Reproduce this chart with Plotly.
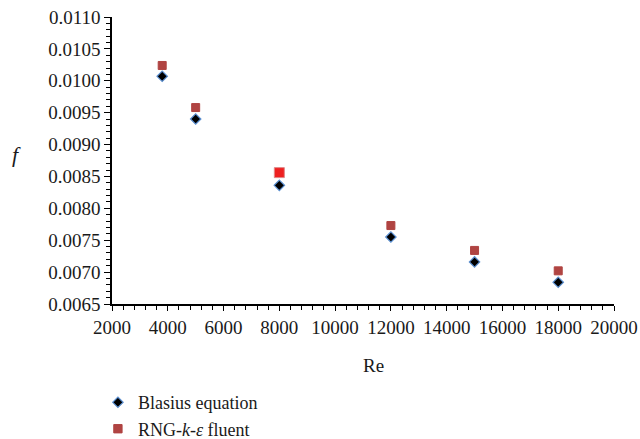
import plotly.graph_objects as go

re_vals = [3800, 5000, 8000, 12000, 15000, 18000]
blasius_f = [0.01007, 0.00940, 0.00836, 0.00755, 0.00716, 0.00684]
rng_f = [0.01024, 0.00958, 0.00856, 0.00773, 0.00734, 0.00702]

x_ticks = [2000, 4000, 6000, 8000, 10000, 12000, 14000, 16000, 18000, 20000]

FONT = "Times New Roman, Times, serif"

fig = go.Figure()
fig.add_trace(go.Scatter(
    x=re_vals, y=blasius_f, mode="markers", name="Blasius equation",
    marker=dict(symbol="diamond", size=8, color="black", opacity=1,
                line=dict(color="#5b8fd0", width=1.2)),
))
rng_colors = ["#b04442"] * len(re_vals)
rng_sizes = [8] * len(re_vals)
rng_lines = ["#b04442"] * len(re_vals)
rng_colors[2] = "#ee2020"
rng_sizes[2] = 10
rng_lines[2] = "#e08888"
fig.add_trace(go.Scatter(
    x=re_vals, y=rng_f, mode="markers", name="RNG-<i>k</i>-<i>ε</i> fluent",
    marker=dict(symbol="square", size=rng_sizes, color=rng_colors, opacity=1,
                line=dict(color=rng_lines, width=1)),
))

fig.update_layout(
    width=640, height=439,
    margin=dict(l=112, r=26, t=17, b=135, autoexpand=False),
    plot_bgcolor="white", paper_bgcolor="white",
    font=dict(family=FONT, size=19, color="#1a1a1a"),
    showlegend=True,
    legend=dict(x=0.153, xref="container", y=0.125, yref="container",
                xanchor="left", yanchor="top",
                font=dict(family=FONT, size=18, color="#1a1a1a"),
                itemsizing="trace", tracegroupgap=0,
                bgcolor="rgba(0,0,0,0)"),
    xaxis=dict(range=[2000, 20000], tickvals=x_ticks,
               ticktext=[str(v) for v in x_ticks],
               showgrid=False, zeroline=False, showline=True,
               linecolor="black", linewidth=1.5,
               ticks="outside", ticklen=5, tickcolor="black", tickwidth=1.3,
               minor=dict(dtick=400, tick0=2000, ticks="outside", ticklen=4,
                          tickcolor="black", tickwidth=1, showgrid=False),
               tickfont=dict(family=FONT, size=19)),
    yaxis=dict(range=[0.0065, 0.0110], dtick=0.0005, tick0=0.0065,
               tickformat=".4f",
               showgrid=False, zeroline=False, showline=True,
               linecolor="black", linewidth=1.5,
               ticks="outside", ticklen=6, tickcolor="black", tickwidth=1.3,
               minor=dict(dtick=0.0001, tick0=0.0065, ticks="outside", ticklen=4,
                          tickcolor="black", tickwidth=1, showgrid=False),
               tickfont=dict(family=FONT, size=19)),
    annotations=[
        dict(text="<i>f</i>", x=-0.19, y=0.52, xref="paper", yref="paper",
             showarrow=False, font=dict(family=FONT, size=22), xanchor="center"),
        dict(text="Re", x=0.52, y=-0.17, xref="paper", yref="paper",
             showarrow=False, font=dict(family=FONT, size=19), yanchor="top"),
    ],
)

fig.write_html("out.html")
